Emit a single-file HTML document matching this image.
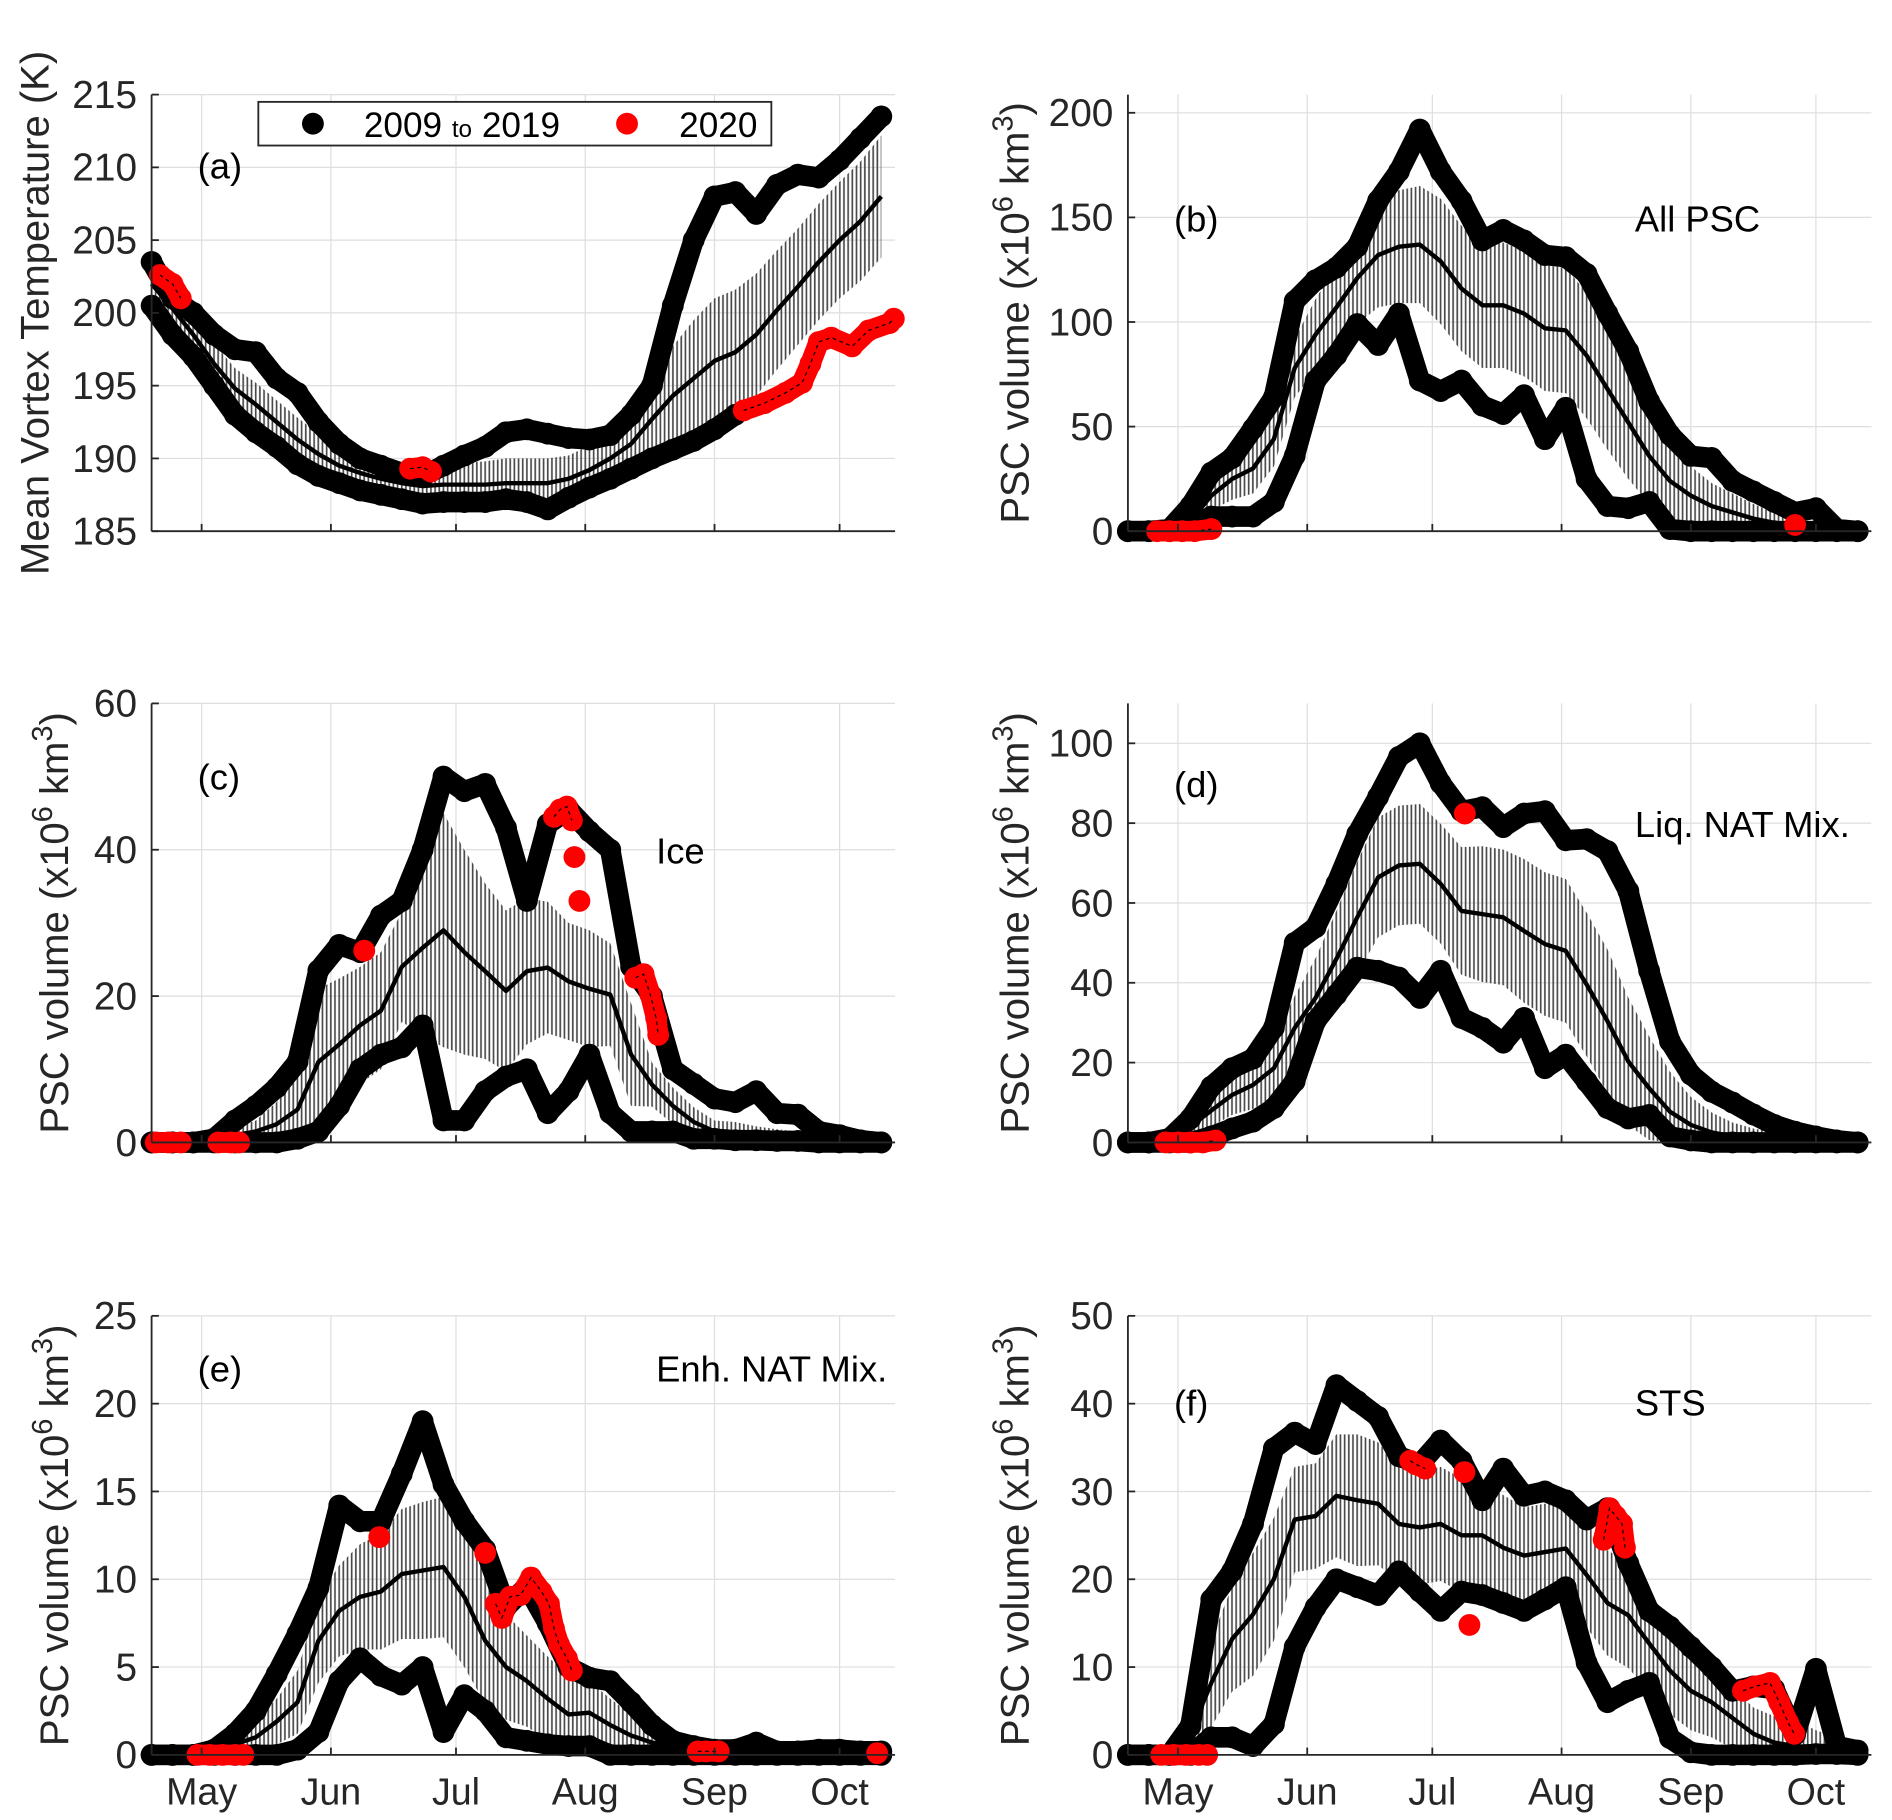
<!DOCTYPE html>
<html><head><meta charset="utf-8"><style>
html,body{margin:0;padding:0;background:#fff;}
svg{display:block;font-family:"Liberation Sans",Arial,sans-serif;}
</style></head><body>
<svg id="fig" width="1892" height="1820" viewBox="0 0 1560 1500.7" preserveAspectRatio="none" xmlns="http://www.w3.org/2000/svg">
<defs>
<pattern id="hatch" patternUnits="userSpaceOnUse" width="3.44" height="10"><line x1="1" y1="0" x2="1" y2="10" stroke="#4a4a4a" stroke-width="1.4"/></pattern>
</defs>
<rect width="1560" height="1501" fill="#fff"/>
</svg>
<script>
const days=[0,5,10,15,20,25,30,35,40,45,50,55,60,65,70,75,80,85,90,95,100,105,110,115,120,125,130,135,140,145,150,155,160,165,170,175];
const monthNames=["May","Jun","Jul","Aug","Sep","Oct"];
const monthDays=[12,43,73,104,135,165];

const aMax=[203.5,201,200,198.5,197.5,197.3,195.5,194.5,192.5,191,190,189.5,189,188.8,189.5,190.2,190.8,191.8,192,191.7,191.4,191.3,191.6,193,195,200.5,205,208,208.3,206.8,208.8,209.5,209.3,210.5,212,213.5];
const aMin=[200.5,198.5,197,195,193,191.8,190.8,189.6,188.8,188.3,187.8,187.5,187.2,186.9,187,187,187,187.2,187,186.5,187.3,188,188.6,189.3,190,190.6,191.2,192,193,null,null,null,null,null,null,null];
const aMean=[202,200.3,198.5,196.5,194.8,193.7,192.5,191.3,190.3,189.5,189,188.6,188.3,188.1,188.2,188.2,188.2,188.3,188.3,188.3,188.6,189.2,190,191,192.7,194.3,195.5,196.7,197.3,198.5,200.2,201.8,203.5,205,206.3,208];
const aStd=[1.2,1.3,1.3,1.4,1.4,1.5,1.5,1.5,1.4,1.3,1.2,1.2,1.2,1.3,1.4,1.5,1.6,1.7,1.7,1.7,1.6,1.7,1.9,2.2,2.8,3.4,4,4.3,4.3,4.2,4.1,4,4,4,4.1,4.2];
const aRedDays=[2,5,7,null,62,65,67,null,142,147,152,156,158,160,163,168,172,177,178];
const aRedVals=[202.6,202,201,null,189.3,189.4,189.1,null,193.3,193.8,194.5,195.2,196.5,198,198.3,197.7,198.8,199.3,199.6];

const bMax=[0,0,1,12,28,35,49,64,110,120,126,136,158,172,192,172,158,139,144,139,132,131,123,104,86,62,46,36,35,24,19,14,9,11,1,0];
const bMin=[0,0,0,2,7,7,7,14,36,72,84,99,89,104,72,67,72,60,56,65,44,59,25,12,11,14,1,0,0,0,0,0,0,0,0,0];
const bMean=[0,0,1,5,17,25,30,44,78,94,107,121,132,136,137,129,116,108,108,104,97,96,84,68,52,36,24,17,12,9,6,4,2,1,0.5,0.4];
const bStd=[0,0,1,3,7,10,12,13,14,17,20,22,25,27,28,30,30,30,30,30,30,30,30,29,27,23,18,14,11,9,7,5,4,3,2,1];
const bRedDays=[7,10,13,16,20,null,160];
const bRedVals=[0,0,0,0,1,null,3];

const cMax=[0,0,0,0.5,3,5,7.5,11,23.5,27,26,31,33,40,50,48,49,43,33,43.5,45.5,42.5,40,24,20,10,8,6,5.5,7,4,3.8,1.5,1,0.3,0];
const cMin=[0,0,0,0,0,0,0,0.5,1.5,5,10,12,13,16,3,3,7,9,10,4,7,12,4,1.5,1.5,1.5,0.5,0.5,0.3,0.3,0.2,0.2,0,0,0,0];
const cMean=[0,0,0,0.3,1,1.5,2.5,4.5,11,13.4,16,18,24,26.6,29,26,23.4,20.7,23.4,23.9,22,21,20.2,12,7.9,5,2.8,1.5,1.3,1,0.8,0.5,0.3,0.2,0.1,0.1];
const cStd=[0,0,0,0.5,1,1.5,3,6,10,9,8,8,7.5,12,16,14,12,11,10,9,8,8,7,7,3,2.5,2,1.5,1.5,1.2,1,1,0.8,0.5,0.3,0.2];
const cRedDays=[1,4,7,null,16,19,21,null,51,null,96.5,98,99.6,100.8,null,101.4,null,102.6,null,116,118,119.6,121,121.5];
const cRedVals=[0,0,0,null,0,0,0,null,26.2,null,44.5,45.5,45.9,44,null,39,null,33,null,22.5,23,20.2,17,14.7];

const dMax=[0,0,1,6,14,18.6,21,28.7,50,53.9,64.8,77.3,86.6,96.6,100,90,83,84,79,82.4,83,75.7,76,73,63,43,25.3,17,12.7,10,7,4.4,2.7,1.5,0.5,0];
const dMin=[0,0,0,0,1.5,3.5,5.2,8.6,15.3,30.4,37,43.8,43,41.3,36.2,43,31.2,28.7,25,31.2,18.6,22,15.3,8.6,6,6.9,1.5,0.5,0,0,0,0,0,0,0,0];
const dMean=[0,0,1,4,8,11.9,14.4,18.6,28.7,36.2,46,56.4,66.4,69.4,69.8,64.8,58,57.2,56.4,53,49.7,48,39.6,30.4,20.3,13.6,7.7,4.4,2.5,1.5,1,0.6,0.4,0.3,0.2,0.1];
const dStd=[0,0,1,2,4,5,6,7,8,10,12,14,15,15,15,15,16,17,17,18,18,18,18,18,16,13,10,7,5,3.5,2.5,2,1.5,1,0.8,0.5];
const dRedDays=[9,12,15,18,21,null,80.8];
const dRedVals=[0,0,0,0,0.5,null,82.4];

const eMax=[0,0,0,0.3,1.2,2.5,4.6,6.9,9.5,14.2,13.3,13.3,16,19,15.4,13.3,11.7,8.4,9.6,7.5,5,4.4,4.2,3,1.7,0.8,0.5,0.3,0.3,0.7,0.2,0.2,0.3,0.3,0.2,0.2];
const eMin=[0,0,0,0,0,0,0,0.3,1.3,4.2,5.5,4.5,4,5,1.3,3.4,2.5,1,0.8,0.6,0.5,0.5,0,0,0,0,0,0,0,0,0,0,0,0,0,0];
const eMean=[0,0,0,0.1,0.6,1,1.9,3,6.5,8.2,9,9.3,10.3,10.5,10.7,9,6.5,5,4.2,3.2,2.3,2.4,1.7,1.1,0.7,0.5,0.4,0.3,0.2,0.15,0.1,0.1,0.1,0.1,0.1,0.1];
const eStd=[0,0,0,0.2,0.5,1,1.3,1.8,2.4,2.6,3,3.3,3.7,3.9,4,4,3.6,3,2.6,2.4,2.2,1.8,1.5,1.2,0.8,0.5,0.4,0.3,0.2,0.2,0.2,0.1,0.1,0.1,0.1,0.1];
const eRedDays=[11,14,17,20,22,null,54.6,null,80,null,82.5,84,86,88.5,91,93.5,95.3,96.5,97.7,99.6,100.8,null,131,133,136,null,174];
const eRedVals=[0,0,0,0,0,null,12.4,null,11.5,null,8.6,7.8,9,9.1,10.1,9.3,8.6,7.2,6.3,5.5,4.8,null,0.2,0.2,0.2,null,0.1];

const fMax=[0,0,0,3.3,17.7,20.9,26.3,34.9,36.7,35.4,42.1,40.3,38.5,34,33.1,35.8,33.5,29,32.6,29.5,30,29,26.8,28.1,21.8,16.4,14.6,12.3,10,7.3,7.8,7.5,2.3,9.8,1,0.5];
const fMin=[0,0,0,0,2,2,1,3.5,12.3,16.8,20,19.1,18.2,20.9,18.6,16.4,18.6,18.2,17.3,16.4,17.7,19.1,10.5,6,7.3,8.2,1.9,0.3,0,0,0,0,0,0.1,0.1,0];
const fMean=[0,0,0.3,2.5,8.2,13.2,16,20,26.8,27.2,29.5,29,28.6,26.3,25.9,26.3,25,25,23.6,22.7,23.1,23.5,20.5,17.3,15.9,12.7,9.6,7.3,6,4.2,2.4,1.4,1,0.8,0.5,0.3];
const fStd=[0,0,0.5,2,5,6,7,7,6,6,7,7.5,7,6.5,6.5,6.5,6.5,6,6,5.5,5.5,5.5,6,6,6,5.5,5,4.5,4,3.5,3,3,3,2,1.5,1];
const fRedDays=[8,11,14,17,19,null,67.7,69,71.3,null,80.7,null,81.9,null,114.1,115.5,117,118.5,119.2,null,147.5,150.4,154,156.2,158.3,159.8];
const fRedVals=[0,0,0,0,0,null,33.5,33.1,32.6,null,32.2,null,14.8,null,24.5,28.1,27.2,26.3,23.6,null,7.3,7.8,8.2,6,3.7,2.4];

const aTicks=[185,190,195,200,205,210,215];
const bTicks=[0,50,100,150,200];
const cTicks=[0,20,40,60];
const dTicks=[0,20,40,60,80,100];
const eTicks=[0,5,10,15,20,25];
const fTicks=[0,10,20,30,40,50];

const svg=document.getElementById('fig');
const NS='http://www.w3.org/2000/svg';
const R=9, SW=17;
function mk(tag,attrs,parent){const e=document.createElementNS(NS,tag);for(const k in attrs)e.setAttribute(k,attrs[k]);(parent||svg).appendChild(e);return e;}

function panel(p){
  const g=mk('g',{});
  
  
  const X=d=>p.x0+(d-0)*(p.x1-p.x0)/178.3;
  const Y=v=>p.yb-(v-p.ymin)*(p.yb-p.yt)/(p.ymax-p.ymin);
  monthDays.forEach(md=>{const l=mk('line',{x1:X(md),x2:X(md),y1:p.yt,y2:p.yb,stroke:'#dedede','stroke-width':1},g);
    });
  p.ticks.forEach(t=>{const l=mk('line',{x1:p.x0,x2:p.x1,y1:Y(t),y2:Y(t),stroke:'#dedede','stroke-width':1},g);
    });
  let up=[],lo=[];
  days.forEach((d,i)=>{up.push(X(d)+','+Y(p.mean[i]+p.std[i]));lo.unshift(X(d)+','+Y(Math.max(p.ymin,p.mean[i]-p.std[i])));});
  const band=mk('polygon',{points:up.concat(lo).join(' '),fill:'url(#hatch)'},g);
  
  
  function series(vals,name){
    const sg=mk('g',{},g);
    
    
    let seg=[];
    const flush=()=>{if(seg.length>1){mk('polyline',{points:seg.join(' '),fill:'none',stroke:'#000','stroke-width':SW,'stroke-linejoin':'round','stroke-linecap':'round'},sg);}seg=[];};
    days.forEach((d,i)=>{const v=vals[i];if(v===null){flush();return;}
      seg.push(X(d)+','+Y(v));
      const c=mk('circle',{cx:X(d),cy:Y(v),r:R,fill:'#000'},sg);
      
      });
    flush();
  }
  series(p.max,'max-series');
  series(p.min,'min-series');
  const ml=mk('polyline',{points:days.map((d,i)=>X(d)+','+Y(p.mean[i])).join(' '),fill:'none',stroke:'#000','stroke-width':3.6,'stroke-linejoin':'round'},g);
  
  
  const rg=mk('g',{},g);
  
  
  let seg=[];
  const flush=()=>{if(seg.length>1){mk('polyline',{points:seg.join(' '),fill:'none',stroke:'#f00','stroke-width':SW,'stroke-linejoin':'round','stroke-linecap':'round'},rg);
      mk('polyline',{points:seg.join(' '),fill:'none',stroke:'#000','stroke-width':1,'stroke-dasharray':'3,3'},rg);}seg=[];};
  p.redDays.forEach((d,i)=>{const v=p.redVals[i];if(d===null){flush();return;}
    seg.push(X(d)+','+Y(v));
    const c=mk('circle',{cx:X(d),cy:Y(v),r:R,fill:'#f00'},rg);
    
    });
  flush();
  const ya=mk('line',{x1:p.x0,x2:p.x0,y1:p.yt,y2:p.yb,stroke:'#262626','stroke-width':1.5},g);
  
  const xa=mk('line',{x1:p.x0,x2:p.x1,y1:p.yb,y2:p.yb,stroke:'#262626','stroke-width':1.5},g);
  
  p.ticks.forEach(t=>{mk('line',{x1:p.x0,x2:p.x0+6,y1:Y(t),y2:Y(t),stroke:'#262626','stroke-width':1.5},g);
    const tx=mk('text',{x:p.x0-12,y:Y(t)+11,'text-anchor':'end','font-size':32,fill:'#262626'},g);tx.textContent=t;
    });
  monthDays.forEach((md,i)=>{mk('line',{x1:X(md),x2:X(md),y1:p.yb,y2:p.yb-6,stroke:'#262626','stroke-width':1.5},g);
    if(p.xlabels){const tx=mk('text',{x:X(md),y:p.yb+41,'text-anchor':'middle','font-size':31,fill:'#262626'},g);tx.textContent=monthNames[i];
      }});
  const cy=(p.yt+p.yb)/2;
  const yt=mk('text',{x:0,y:0,'text-anchor':'middle','font-size':33,fill:'#262626',transform:`translate(${p.titleX},${cy}) rotate(-90)`},g);
  
  if(p.id==='a'){yt.textContent='Mean Vortex Temperature (K)';}
  else{yt.innerHTML='PSC volume (x10<tspan dy="-13" font-size="24">6</tspan><tspan dy="13"> km</tspan><tspan dy="-13" font-size="24">3</tspan><tspan dy="13">)</tspan>';}
  const pl=mk('text',{x:p.x0+38,y:p.labY,'font-size':30,fill:'#000'},g);pl.textContent='('+p.id+')';
  
  if(p.name){const nm=mk('text',{x:p.nameX,y:p.nameY,'font-size':30,fill:'#000'},g);nm.textContent=p.name;
    }
}

const L0=125,L1=738,R0=930,R1=1543;
panel({id:'a',x0:L0,x1:L1,yt:78,yb:438,ymin:185,ymax:215,ticks:aTicks,max:aMax,min:aMin,mean:aMean,std:aStd,redDays:aRedDays,redVals:aRedVals,titleX:40,labY:147,xlabels:false});
panel({id:'b',x0:R0,x1:R1,yt:78,yb:438,ymin:0,ymax:208.7,ticks:bTicks,max:bMax,min:bMin,mean:bMean,std:bStd,redDays:bRedDays,redVals:bRedVals,titleX:848,labY:191,name:'All PSC',nameX:1348,nameY:191,xlabels:false});
panel({id:'c',x0:L0,x1:L1,yt:580,yb:942,ymin:0,ymax:60,ticks:cTicks,max:cMax,min:cMin,mean:cMean,std:cStd,redDays:cRedDays,redVals:cRedVals,titleX:56,labY:651,name:'Ice',nameX:541,nameY:712,xlabels:false});
panel({id:'d',x0:R0,x1:R1,yt:580,yb:942,ymin:0,ymax:110,ticks:dTicks,max:dMax,min:dMin,mean:dMean,std:dStd,redDays:dRedDays,redVals:dRedVals,titleX:848,labY:657,name:'Liq. NAT Mix.',nameX:1348,nameY:690,xlabels:false});
panel({id:'e',x0:L0,x1:L1,yt:1085,yb:1447,ymin:0,ymax:25,ticks:eTicks,max:eMax,min:eMin,mean:eMean,std:eStd,redDays:eRedDays,redVals:eRedVals,titleX:56,labY:1139,name:'Enh. NAT Mix.',nameX:541,nameY:1139,xlabels:true});
panel({id:'f',x0:R0,x1:R1,yt:1085,yb:1447,ymin:0,ymax:50,ticks:fTicks,max:fMax,min:fMin,mean:fMean,std:fStd,redDays:fRedDays,redVals:fRedVals,titleX:848,labY:1167,name:'STS',nameX:1348,nameY:1167,xlabels:true});

const lg=mk('g',{});


mk('rect',{x:213,y:84,width:423,height:36,fill:'#fff',stroke:'#262626','stroke-width':1.5},lg);
mk('circle',{cx:258,cy:102,r:R,fill:'#000'},lg);
const t1=mk('text',{x:300,y:113,'font-size':29,fill:'#000'},lg);
t1.innerHTML='2009 <tspan font-size="20">to</tspan> 2019';


mk('circle',{cx:517,cy:102,r:R,fill:'#f00'},lg);
const t2=mk('text',{x:560,y:113,'font-size':29,fill:'#000'},lg);
t2.textContent='2020';


</script>
</body></html>
